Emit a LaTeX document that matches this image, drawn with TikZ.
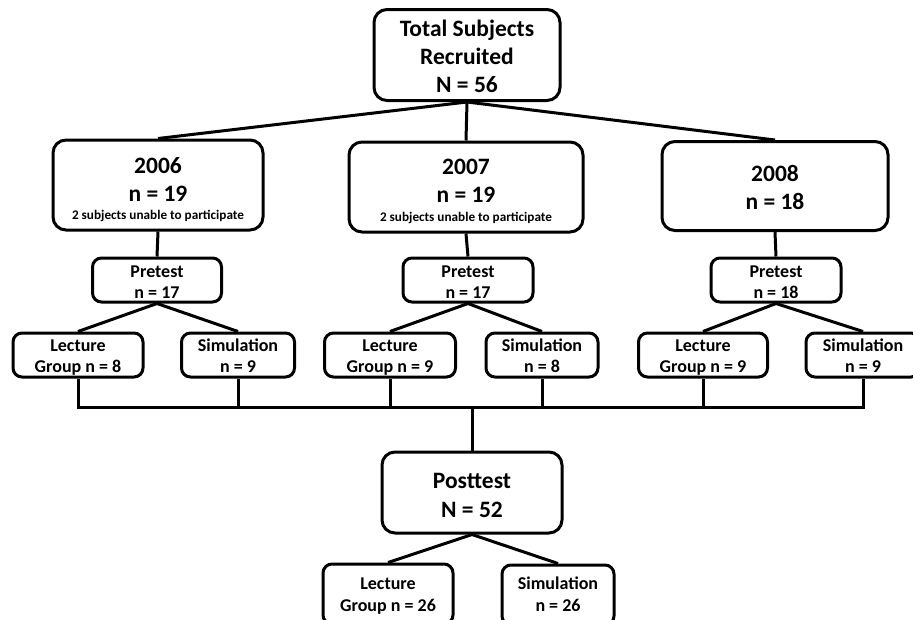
\documentclass[tikz,border=0pt]{standalone}
\usepackage{fontspec}
\setmainfont{Carlito}
\begin{document}
\begin{tikzpicture}[x=1pt,y=-1pt,
  box/.style={draw,line width=3pt,rounded corners=13pt,inner sep=0pt},
  sbox/.style={draw,line width=3pt,rounded corners=9pt,inner sep=0pt},
  big/.style={anchor=base,inner sep=0pt,font=\bfseries\fontsize{23.5}{28}\selectfont},
  mid/.style={anchor=base,inner sep=0pt,font=\bfseries\fontsize{18}{21}\selectfont},
  tiny/.style={anchor=base,inner sep=0pt,font=\bfseries\fontsize{13.2}{15}\selectfont},
  conn/.style={line width=3pt}]
\clip (0,0) rectangle (913,619);
\fill[white] (0,0) rectangle (913,619);
% top
\node[box,minimum width=186pt,minimum height=91pt] (top) at (467,55) {};
\node[big] (topa) at (467,36) {Total Subjects};
\node[big] (topb) at (467,64) {Recruited};
\node[big] (topc) at (467,92) {N = 56};
% years
\node[box,minimum width=210pt,minimum height=90pt] (y6) at (158,185) {};
\node[big] (y6a) at (158,173) {2006};
\node[big] (y6b) at (158,201) {n = 19};
\node[tiny] (y6c) at (158,219.5) {2 subjects unable to participate};
\node[box,minimum width=234pt,minimum height=90pt] (y7) at (466,187) {};
\node[big] (y7a) at (466,174.5) {2007};
\node[big] (y7b) at (466,202.5) {n = 19};
\node[tiny] (y7c) at (466,221) {2 subjects unable to participate};
\node[box,minimum width=226pt,minimum height=89pt] (y8) at (775,186) {};
\node[big] (y8a) at (775,181) {2008};
\node[big] (y8b) at (775,209.5) {n = 18};
% pretests
\node[sbox,minimum width=129pt,minimum height=44pt] (p6) at (157,280) {};
\node[mid] (p6a) at (157,277) {Pretest};
\node[mid] (p6b) at (157,298) {n = 17};
\node[sbox,minimum width=130pt,minimum height=44pt] (p7) at (468,280) {};
\node[mid] (p7a) at (468,277) {Pretest};
\node[mid] (p7b) at (468,298) {n = 17};
\node[sbox,minimum width=130pt,minimum height=44pt] (p8) at (776,280) {};
\node[mid] (p8a) at (776,277) {Pretest};
\node[mid] (p8b) at (776,298) {n = 18};
% groups
\node[sbox,minimum width=130pt,minimum height=44pt] (l6) at (78,355) {};
\node[mid] (l6a) at (78,351.5) {Lecture};
\node[mid] (l6b) at (78,372.5) {Group n = 8};
\node[sbox,minimum width=113pt,minimum height=44pt] (s6) at (238,355) {};
\node[mid] (s6a) at (238,351.5) {Simulation};
\node[mid] (s6b) at (238,372.5) {n = 9};
\node[sbox,minimum width=131pt,minimum height=44pt] (l7) at (390,355) {};
\node[mid] (l7a) at (390,351.5) {Lecture};
\node[mid] (l7b) at (390,372.5) {Group n = 9};
\node[sbox,minimum width=112pt,minimum height=44pt] (s7) at (542,355) {};
\node[mid] (s7a) at (542,351.5) {Simulation};
\node[mid] (s7b) at (542,372.5) {n = 8};
\node[sbox,minimum width=129pt,minimum height=44pt] (l8) at (703,355) {};
\node[mid] (l8a) at (703,351.5) {Lecture};
\node[mid] (l8b) at (703,372.5) {Group n = 9};
\node[sbox,minimum width=114pt,minimum height=44pt] (s8) at (863,355) {};
\node[mid] (s8a) at (863,351.5) {Simulation};
\node[mid] (s8b) at (863,372.5) {n = 9};
% posttest
\node[box,minimum width=180pt,minimum height=81pt] (post) at (472,492.5) {};
\node[big] (posta) at (472,488.5) {Posttest};
\node[big] (postb) at (472,517.5) {N = 52};
\node[sbox,minimum width=130pt,minimum height=60pt] (pl) at (388,594) {};
\node[mid] (pla) at (388,589.5) {Lecture};
\node[mid] (plb) at (388,611) {Group n = 26};
\node[sbox,minimum width=112pt,minimum height=60pt] (ps) at (558,595) {};
\node[mid] (psa) at (558,589.5) {Simulation};
\node[mid] (psb) at (558,611.5) {n = 26};
% connectors
\draw[conn] (top.south) -- (y6.north);
\draw[conn] (top.south) -- (y7.north);
\draw[conn] (top.south) -- (y8.north);
\draw[conn] (y6.south) -- (p6.north);
\draw[conn] (y7.south) -- (p7.north);
\draw[conn] (y8.south) -- (p8.north);
\draw[conn] (p6.south) -- (l6.north);
\draw[conn] (p6.south) -- (s6.north);
\draw[conn] (p7.south) -- (l7.north);
\draw[conn] (p7.south) -- (s7.north);
\draw[conn] (p8.south) -- (l8.north);
\draw[conn] (p8.south) -- (s8.north);
\coordinate (busL) at (78,407);
\coordinate (busR) at (863,407);
\draw[conn,line cap=rect] (busL) -- (busR);
\foreach \n in {l6,s6,l7,s7,l8,s8}{\draw[conn] (\n.south) -- (\n.south |- busL);}
\draw[conn] (post.north |- busL) -- (post.north);
\draw[conn] (post.south) -- (pl.north);
\draw[conn] (post.south) -- (ps.north);
\end{tikzpicture}
\end{document}
